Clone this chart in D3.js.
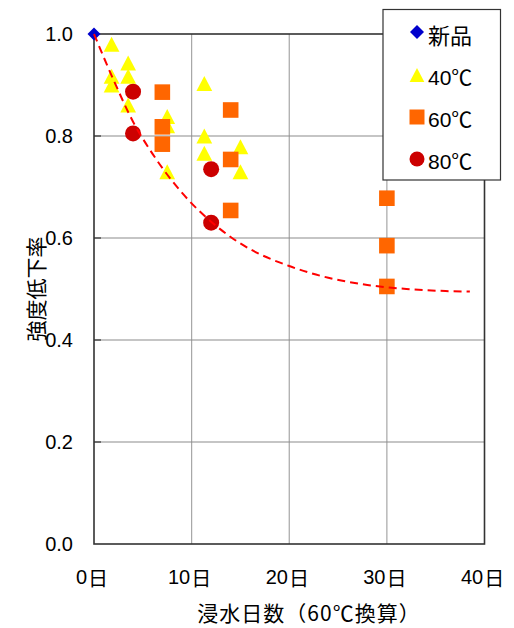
<!DOCTYPE html>
<html>
<head>
<meta charset="utf-8">
<script src="https://cdn.jsdelivr.net/npm/d3@7"></script>
<style>
  body { margin: 0; background: #fff; }
  text { font-family: "Liberation Sans", Arial, "Noto Sans CJK JP", sans-serif; fill: #000; }
  .cjk { font-family: "Noto Sans CJK JP", sans-serif; }
</style>
</head>
<body>
<svg id="chart" width="514" height="628"></svg>
<script>
// data (days, strength ratio)
const newPts = [[0, 1.0]];
const pts40 = [[1.8, 0.98], [3.5, 0.943], [1.8, 0.917], [1.8, 0.90], [3.5, 0.917], [3.5, 0.861],
               [7.5, 0.838], [7.5, 0.82], [7.5, 0.73], [11.3, 0.903], [11.3, 0.80], [11.3, 0.766],
               [15, 0.779], [15, 0.73]];
const pts60 = [[7, 0.886], [7, 0.818], [7, 0.784], [14, 0.851], [14, 0.754], [14, 0.654],
               [30, 0.678], [30, 0.585], [30, 0.505]];
const pts80 = [[4, 0.887], [4, 0.805], [12, 0.735], [12, 0.63]];
// dashed trend line
const trendDays = [0, 2, 4, 6, 8, 10, 12, 14, 16, 20, 24, 28, 32, 36, 38.5];
const trendVals = [1.0, 0.91, 0.828, 0.765, 0.712, 0.668, 0.632, 0.602, 0.578, 0.545, 0.522, 0.508, 0.500, 0.496, 0.495];

const xTicks = [0, 10, 20, 30, 40];
const yTicks = [0, 0.2, 0.4, 0.6, 0.8, 1.0];
const legendLabels = ["新品", "40℃", "60℃", "80℃"];

const svg = d3.select("#chart");
const plot = {left: 94, right: 484.5, top: 34, bottom: 544};

const x = d3.scaleLinear().domain([0, 40]).range([plot.left, plot.right]);
const y = d3.scaleLinear().domain([0, 1]).range([plot.bottom, plot.top]);

// grid
svg.append("g").selectAll("line").data(xTicks.slice(1, -1)).join("line")
    .attr("x1", d => x(d)).attr("x2", d => x(d))
    .attr("y1", plot.top).attr("y2", plot.bottom)
    .attr("stroke", "#a6a6a6").attr("stroke-width", 1.2);
svg.append("g").selectAll("line").data(yTicks.slice(1, -1)).join("line")
    .attr("x1", plot.left).attr("x2", plot.right)
    .attr("y1", d => y(d)).attr("y2", d => y(d))
    .attr("stroke", "#8c8c8c").attr("stroke-width", 1.2);
// inner ticks on the y axis
svg.append("g").selectAll("line").data(yTicks.slice(1, -1)).join("line")
    .attr("x1", plot.left).attr("x2", plot.left + 7)
    .attr("y1", d => y(d)).attr("y2", d => y(d))
    .attr("stroke", "#333").attr("stroke-width", 1.2);

// frame
svg.append("rect")
    .attr("x", plot.left).attr("y", plot.top)
    .attr("width", plot.right - plot.left).attr("height", plot.bottom - plot.top)
    .attr("fill", "none").attr("stroke", "#333").attr("stroke-width", 1.6);

// tick labels
svg.append("g").selectAll("text").data(yTicks).join("text")
    .attr("x", 73).attr("y", d => y(d))
    .attr("text-anchor", "end").attr("dominant-baseline", "central")
    .style("font-size", "20px")
    .text(d => d.toFixed(1));
const xl = svg.append("g").selectAll("text").data(xTicks).join("text")
    .attr("x", d => x(d) - 2).attr("y", 577)
    .attr("text-anchor", "middle").attr("dominant-baseline", "central")
    .style("font-size", "20px");
xl.append("tspan").text(d => d);
xl.append("tspan").attr("class", "cjk").attr("dx", 1).text("日");

// axis titles
svg.append("text")
    .attr("class", "cjk")
    .attr("x", 309).attr("y", 612)
    .attr("text-anchor", "middle").attr("dominant-baseline", "central")
    .style("font-size", "21px").style("letter-spacing", "1px")
    .text("浸水日数（60℃換算）");
svg.append("text")
    .attr("class", "cjk")
    .attr("transform", "translate(35,289) rotate(-90)")
    .attr("text-anchor", "middle").attr("dominant-baseline", "central")
    .style("font-size", "21px")
    .text("強度低下率");

// marker shapes (path centred on 0,0)
function shapePath(kind, s) {
  if (kind === "diamond") return `M0,${-s}L${s},0L0,${s}L${-s},0Z`;
  if (kind === "triangle") return `M0,${-s}L${s * 1.05},${s}L${-s * 1.05},${s}Z`;
  if (kind === "square") return `M${-s},${-s}H${s}V${s}H${-s}Z`;
  return d3.arc()({innerRadius: 0, outerRadius: s, startAngle: 0, endAngle: 2 * Math.PI});
}

const series = [
  {pts: newPts, kind: "diamond", size: 6.5, color: "#0000cc"},
  {pts: pts40, kind: "triangle", size: 7.5, color: "#ffff00"},
  {pts: pts60, kind: "square", size: 7.8, color: "#ff6600"},
  {pts: pts80, kind: "circle", size: 8, color: "#cc0000"}
];

series.forEach(s => {
  svg.append("g").selectAll("path").data(s.pts).join("path")
      .attr("transform", d => `translate(${x(d[0])},${y(d[1])})`)
      .attr("d", shapePath(s.kind, s.size))
      .attr("fill", s.color);
});

// trend line on top
const trend = trendDays.map((d, i) => [d, trendVals[i]]);
svg.append("path")
    .datum(trend)
    .attr("d", d3.line().x(d => x(d[0])).y(d => y(d[1])).curve(d3.curveMonotoneX))
    .attr("fill", "none").attr("stroke", "#ff0000")
    .attr("stroke-width", 2).attr("stroke-dasharray", "8,5");

// legend
const lg = svg.append("g");
lg.append("rect")
    .attr("x", 383).attr("y", 9.5).attr("width", 117.5).attr("height", 170.5)
    .attr("fill", "#fff").attr("stroke", "#333").attr("stroke-width", 1.2);
const legendY = [33, 76, 118, 160];
const legendSize = [7, 7, 7.5, 7.5];
series.forEach((s, i) => {
  lg.append("path")
      .attr("transform", `translate(417,${legendY[i] - 1})`)
      .attr("d", shapePath(s.kind, legendSize[i]))
      .attr("fill", s.color);
  lg.append("text")
      .attr("class", i === 0 ? "cjk" : null)
      .attr("x", 428).attr("y", legendY[i] + 1)
      .attr("dominant-baseline", "central")
      .style("font-size", i === 0 ? "22px" : "21px")
      .text(legendLabels[i]);
});
</script>
</body>
</html>
